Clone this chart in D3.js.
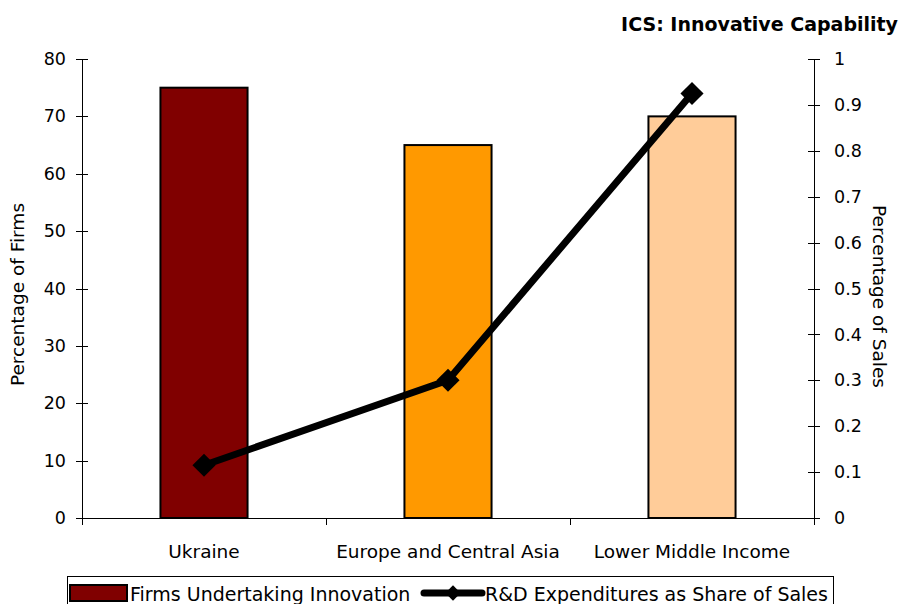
<!DOCTYPE html>
<html lang="en">
<head>
<meta charset="utf-8">
<title>ICS: Innovative Capability</title>
<script src="https://d3js.org/d3.v7.min.js"></script>
<style>
  body { margin: 0; background: #fff; }
  svg text { font-family: Tahoma, "DejaVu Sans", sans-serif; fill: #000; }
  .axis path, .axis line { stroke: #000; stroke-width: 1; shape-rendering: crispEdges; }
</style>
</head>
<body>
<div id="chart"></div>
<script>
// data
var categories = ["Ukraine", "Europe and Central Asia", "Lower Middle Income"];
var firmsInnovating = [75, 65, 70];
var rdShare = [0.115, 0.3, 0.925];
var barColors = ["#800000", "#ff9900", "#ffcc99"];
var leftTicks = [0, 10, 20, 30, 40, 50, 60, 70, 80];
var rightTicks = [0, 0.1, 0.2, 0.3, 0.4, 0.5, 0.6, 0.7, 0.8, 0.9, 1];

var W = 903, H = 604;
var margin = {top: 59, right: 89, bottom: 86, left: 82},
    width = W - margin.left - margin.right,
    height = H - margin.top - margin.bottom;

var svg = d3.select("#chart").append("svg")
    .attr("width", W).attr("height", H);
var g = svg.append("g")
    .attr("transform", "translate(" + margin.left + "," + margin.top + ")");

var x = d3.scaleBand().domain(categories).range([0, width]).paddingInner(0.643).paddingOuter(0.3215);
var xOuter = d3.scaleBand().domain(categories).range([0, width]);
var yL = d3.scaleLinear().domain([0, 80]).range([height, 0]);
var yR = d3.scaleLinear().domain([0, 1]).range([height, 0]);

// bars
g.selectAll(".bar").data(categories).enter().append("rect")
    .attr("x", function(d) { return x(d); })
    .attr("y", function(d, i) { return yL(firmsInnovating[i]); })
    .attr("width", x.bandwidth())
    .attr("height", function(d, i) { return height - yL(firmsInnovating[i]); })
    .attr("fill", function(d, i) { return barColors[i]; })
    .attr("stroke", "#000").attr("stroke-width", 2);

// left axis
var la = g.append("g").attr("class", "axis")
    .call(d3.axisLeft(yL).tickValues(leftTicks).tickSizeInner(6).tickSizeOuter(0).tickPadding(10));
la.selectAll("text").style("font-size", "17.5px");
la.selectAll(".tick line").attr("x1", 6).attr("x2", -6);

// right axis
var ra = g.append("g").attr("class", "axis")
    .attr("transform", "translate(" + width + ",0)")
    .call(d3.axisRight(yR).tickValues(rightTicks).tickFormat(d3.format("~g")).tickSizeOuter(0).tickPadding(14));
ra.selectAll("text").style("font-size", "17.5px");
ra.selectAll(".tick line").attr("x1", -6).attr("x2", 6);

// x axis with category separators
var xa = g.append("g").attr("class", "axis")
    .attr("transform", "translate(0," + height + ")");
xa.append("line").attr("x1", 0).attr("x2", width).attr("stroke", "#000");
xa.selectAll(".sep").data(categories.concat(["end"])).enter().append("line")
    .attr("x1", function(d, i) { return i * xOuter.step(); })
    .attr("x2", function(d, i) { return i * xOuter.step(); })
    .attr("y1", 0).attr("y2", 7).attr("stroke", "#000");
xa.selectAll(".lbl").data(categories).enter().append("text")
    .attr("x", function(d) { return xOuter(d) + xOuter.bandwidth() / 2; })
    .attr("y", 40)
    .attr("text-anchor", "middle")
    .style("font-size", "18.5px")
    .text(function(d) { return d; });

// axis titles
svg.append("text")
    .attr("transform", "translate(24," + (margin.top + height / 2 + 6) + ") rotate(-90)")
    .attr("text-anchor", "middle").style("font-size", "18.5px")
    .text("Percentage of Firms");
svg.append("text")
    .attr("transform", "translate(873," + (margin.top + height / 2 + 8) + ") rotate(90)")
    .attr("text-anchor", "middle").style("font-size", "18.5px")
    .text("Percentage of Sales");

// line + diamonds
var line = d3.line()
    .x(function(d, i) { return xOuter(categories[i]) + xOuter.bandwidth() / 2; })
    .y(function(d) { return yR(d); });
g.append("path").datum(rdShare)
    .attr("d", line).attr("fill", "none")
    .attr("stroke", "#000").attr("stroke-width", 7).attr("stroke-linejoin", "round");
var diamond = d3.symbol().type(d3.symbolDiamond2).size(340);
g.selectAll(".pt").data(rdShare).enter().append("path")
    .attr("d", diamond)
    .attr("transform", function(d, i) {
        return "translate(" + (xOuter(categories[i]) + xOuter.bandwidth() / 2) + "," + yR(d) + ")";
    })
    .attr("fill", "#000");

// title
svg.append("text")
    .attr("x", 898).attr("y", 31)
    .attr("text-anchor", "end")
    .style("font-size", "19px").style("font-weight", "bold")
    .text("ICS: Innovative Capability");

// legend
var lg = svg.append("g");
lg.append("rect").attr("x", 67.5).attr("y", 576.5).attr("width", 766).attr("height", 40)
    .attr("fill", "#fff").attr("stroke", "#000").attr("stroke-width", 1);
lg.append("rect").attr("x", 70).attr("y", 585).attr("width", 57).attr("height", 16)
    .attr("fill", barColors[0]).attr("stroke", "#000").attr("stroke-width", 2);
lg.append("text").attr("x", 130).attr("y", 601).style("font-size", "19px")
    .text("Firms Undertaking Innovation");
lg.append("line").attr("x1", 424).attr("x2", 482).attr("y1", 593).attr("y2", 593)
    .attr("stroke", "#000").attr("stroke-width", 7).attr("stroke-linecap", "round");
lg.append("path").attr("d", d3.symbol().type(d3.symbolDiamond2).size(150))
    .attr("transform", "translate(453,593)").attr("fill", "#000");
lg.append("text").attr("x", 485).attr("y", 601).style("font-size", "19px")
    .text("R&D Expenditures as Share of Sales");
</script>
</body>
</html>
